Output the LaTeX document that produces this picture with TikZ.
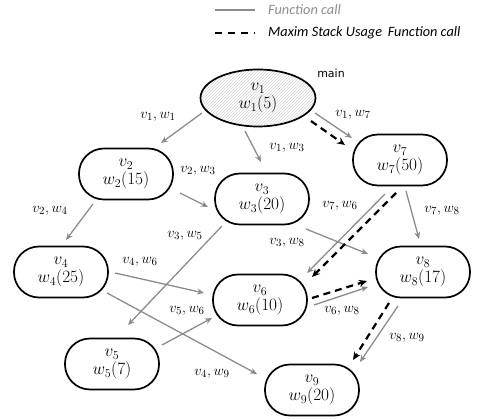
\documentclass[tikz,border=0pt]{standalone}
\usepackage{fontspec}
\newfontfamily\legendfont{Carlito}
\newfontfamily\tagfont{DejaVu Sans}
\usetikzlibrary{arrows.meta,patterns,shapes.geometric}
\definecolor{callgray}{RGB}{140,140,140}
\definecolor{hatchgray}{RGB}{212,212,212}
\tikzset{
  func/.style={draw=black, line width=1.7pt, rounded corners=25pt,
    minimum width=94pt, minimum height=51pt, inner sep=0pt, align=center,
    font=\fontsize{17.5}{18}\selectfont},
  mainfunc/.style={draw=black, line width=1.7pt, ellipse,
    minimum width=115pt, minimum height=57pt, inner sep=0pt, align=center,
    pattern=north east lines, pattern color=hatchgray,
    font=\fontsize{17.5}{18}\selectfont},
  fcall/.style={draw=callgray, line width=1.3pt,
    -{Stealth[length=7pt,width=6pt]}},
  maxcall/.style={draw=black, line width=2.2pt, dash pattern=on 7pt off 5pt,
    -{Stealth[length=8pt,width=7pt]}},
  elabel/.style={inner sep=0pt, font=\fontsize{15}{16}\selectfont},
  legendtext/.style={anchor=west, inner sep=0pt,
    font=\legendfont\itshape\fontsize{14.3}{16}\selectfont}
}
\begin{document}
\begin{tikzpicture}[x=1pt,y=-1pt]
\useasboundingbox (0,0) rectangle (482,419);

% legend
\coordinate (la) at (215,10);
\coordinate (lb) at (255,10);
\coordinate (lc) at (215,33);
\coordinate (ld) at (255,33);
\draw[draw=callgray, line width=1.6pt] (la) -- (lb);
\draw[draw=black, line width=2.4pt, dash pattern=on 7pt off 6pt] (lc) -- (ld);
\node[legendtext, text=callgray] (lgcall) at (268,10) {Function call};
\node[legendtext] (lgmax) at (268,33) {Maxim Stack Usage\, Function call};

% functions
\node[mainfunc] (v1) at (258,98) {$v_1$\\$w_1(5)$};
\node[inner sep=0pt, font=\tagfont\fontsize{11}{13}\selectfont] (mainlbl) at (331,73) {main};
\node[func] (v2) at (126,174) {$v_2$\\$w_2(15)$};
\node[func] (v3) at (262,199) {$v_3$\\$w_3(20)$};
\node[func] (v7) at (400,160) {$v_7$\\$w_7(50)$};
\node[func] (v4) at (61,272) {$v_4$\\$w_4(25)$};
\node[func] (v5) at (112,364) {$v_5$\\$w_5(7)$};
\node[func] (v6) at (260,300) {$v_6$\\$w_6(10)$};
\node[func] (v8) at (423,272) {$v_8$\\$w_8(17)$};
\node[func] (v9) at (312,390) {$v_9$\\$w_9(20)$};

% function calls
\draw[fcall] ([shift={(-56,15)}]v1.center) -- ([shift={(35,-31)}]v2.center);
\draw[fcall] ([shift={(-13,33)}]v1.center) -- ([shift={(-1,-37)}]v3.center);
\draw[fcall] ([shift={(57,15)}]v1.center) -- ([shift={(-48,-22)}]v7.center);
\draw[fcall] ([shift={(54,19)}]v2.center) -- ([shift={(-54,8)}]v3.center);
\draw[fcall] ([shift={(-33,30)}]v2.center) -- ([shift={(5,-32)}]v4.center);
\draw[fcall] ([shift={(-40,27)}]v3.center) -- ([shift={(16,-39)}]v5.center);
\draw[fcall] ([shift={(44,30)}]v3.center) -- ([shift={(-55,-18)}]v8.center);
\draw[fcall] ([shift={(54,1)}]v4.center) -- ([shift={(-56,-7)}]v6.center);
\draw[fcall] ([shift={(46,21)}]v4.center) -- ([shift={(-55,-16)}]v9.center);
\draw[fcall] ([shift={(50,-19)}]v5.center) -- ([shift={(-48,18)}]v6.center);
\draw[fcall] ([shift={(-15,34)}]v7.center) -- ([shift={(47,-27)}]v6.center);
\draw[fcall] ([shift={(6,31)}]v7.center) -- ([shift={(-4,-33)}]v8.center);
\draw[fcall] ([shift={(54,5)}]v6.center) -- ([shift={(-55,15)}]v8.center);
\draw[fcall] ([shift={(-25,34)}]v8.center) -- ([shift={(48,-28)}]v9.center);

% maximum stack usage path
\draw[maxcall] ([shift={(53,23)}]v1.center) -- ([shift={(-55,-15)}]v7.center);
\draw[maxcall] ([shift={(-4,33)}]v7.center) -- ([shift={(52,-23)}]v6.center);
\draw[maxcall] ([shift={(52,-2)}]v6.center) -- ([shift={(-56,9)}]v8.center);
\draw[maxcall] ([shift={(-34,31)}]v8.center) -- ([shift={(41,-30)}]v9.center);

% call labels
\node[elabel] (l12) at (158,117) {$v_1, w_1$};
\node[elabel] (l13) at (287,148) {$v_1, w_3$};
\node[elabel] (l17) at (353,115) {$v_1, w_7$};
\node[elabel] (l23) at (198,171) {$v_2, w_3$};
\node[elabel] (l24) at (50,211) {$v_2, w_4$};
\node[elabel] (l35) at (185,236) {$v_3, w_5$};
\node[elabel] (l38) at (287,243) {$v_3, w_8$};
\node[elabel] (l46) at (140,262) {$v_4, w_6$};
\node[elabel] (l49) at (212,374) {$v_4, w_9$};
\node[elabel] (l56) at (187,311) {$v_5, w_6$};
\node[elabel] (l76) at (340,206) {$v_7, w_6$};
\node[elabel] (l78) at (442,211) {$v_7, w_8$};
\node[elabel] (l68) at (342,311) {$v_6, w_8$};
\node[elabel] (l89) at (407,338) {$v_8, w_9$};
\end{tikzpicture}
\end{document}
